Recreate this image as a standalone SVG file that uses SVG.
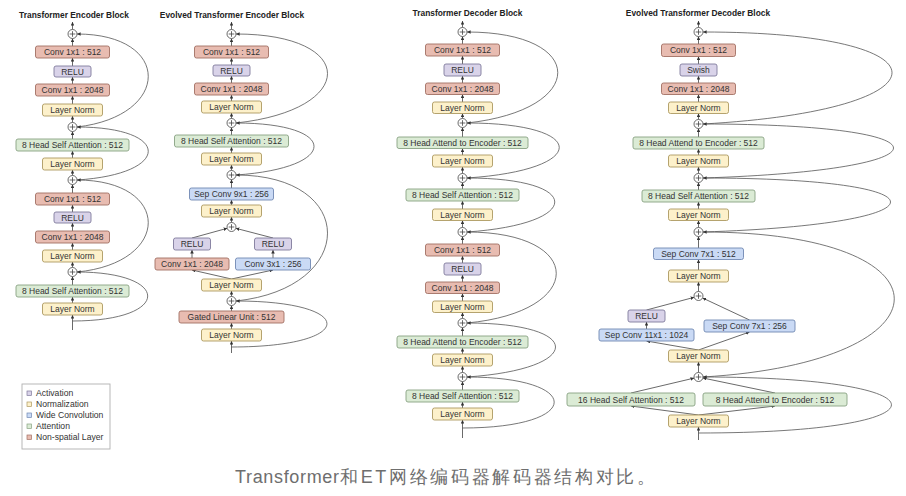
<svg xmlns="http://www.w3.org/2000/svg" width="906" height="496" viewBox="0 0 906 496">
<style>
.bx{stroke-width:0.9}
.ns{fill:#e8bcb1;stroke:#a26f63}
.ac{fill:#d9d3e9;stroke:#807a9c}
.nm{fill:#fdf1cb;stroke:#ad9860}
.wc{fill:#cadaf5;stroke:#6f88b2}
.at{fill:#dbebd5;stroke:#88a182}
text{font-family:"Liberation Sans",Arial,sans-serif}
.t{font-size:8.5px;fill:#333;text-anchor:middle}
.h{font-size:8.4px;font-weight:bold;fill:#222;text-anchor:middle}
.lg{font-size:8.6px;fill:#333}
.ln{stroke:#444;stroke-width:0.8;fill:none;marker-end:url(#ah)}
.cv{stroke:#555;stroke-width:0.8;fill:none;marker-end:url(#ah)}
.pc{fill:#fff;stroke:#444;stroke-width:0.8}
.pl{stroke:#444;stroke-width:0.8}
</style>
<defs>
<marker id="ah" viewBox="0 0 6 6" refX="6" refY="3" markerWidth="3.6" markerHeight="3.6" markerUnits="userSpaceOnUse" orient="auto"><path d="M0,0 L6,3 L0,6 z" fill="#333"/></marker>
<g id="plus"><circle class="pc" cx="0" cy="0" r="4.5"/><path class="pl" d="M-2.8,0 H2.8 M0,-2.8 V2.8"/></g>
</defs>
<rect width="906" height="496" fill="#fff"/>

<!-- titles -->
<text class="h" x="74" y="17.5">Transformer Encoder Block</text>
<text class="h" x="232" y="17.5">Evolved Transformer Encoder Block</text>
<text class="h" x="467.5" y="15.5">Transformer Decoder Block</text>
<text class="h" x="698" y="15.5">Evolved Transformer Decoder Block</text>

<g id="connectors">
<!-- col1 vertical -->
<line class="ln" x1="72.5" y1="29.5" x2="72.5" y2="22"/>
<line class="ln" x1="72.5" y1="46" x2="72.5" y2="38.5"/>
<line class="ln" x1="72.5" y1="66" x2="72.5" y2="58"/>
<line class="ln" x1="72.5" y1="84" x2="72.5" y2="77"/>
<line class="ln" x1="72.5" y1="104" x2="72.5" y2="96"/>
<line class="ln" x1="72.5" y1="122.5" x2="72.5" y2="116"/>
<line class="ln" x1="72.5" y1="139" x2="72.5" y2="131.5"/>
<line class="ln" x1="72.5" y1="158" x2="72.5" y2="151"/>
<line class="ln" x1="72.5" y1="175.5" x2="72.5" y2="170"/>
<line class="ln" x1="72.5" y1="193" x2="72.5" y2="184.5"/>
<line class="ln" x1="72.5" y1="212" x2="72.5" y2="205"/>
<line class="ln" x1="72.5" y1="231" x2="72.5" y2="223"/>
<line class="ln" x1="72.5" y1="250" x2="72.5" y2="243"/>
<line class="ln" x1="72.5" y1="267.5" x2="72.5" y2="262"/>
<line class="ln" x1="72.5" y1="285" x2="72.5" y2="276.5"/>
<line class="ln" x1="72.5" y1="303" x2="72.5" y2="297"/>
<line class="ln" x1="72.5" y1="330" x2="72.5" y2="315"/>
<!-- col1 skips -->
<path class="cv" d="M77,127 C172,116 172,34 77,34"/>
<path class="cv" d="M77,180 C172,174 172,127 77,127"/>
<path class="cv" d="M77,272 C172,263 172,180 77,180"/>
<path class="cv" d="M72.5,321 C172,321 172,272 77,272"/>

<!-- col2 vertical -->
<line class="ln" x1="231.5" y1="29.5" x2="231.5" y2="22"/>
<line class="ln" x1="231.5" y1="46" x2="231.5" y2="38.5"/>
<line class="ln" x1="231.5" y1="65" x2="231.5" y2="58"/>
<line class="ln" x1="231.5" y1="83" x2="231.5" y2="76"/>
<line class="ln" x1="231.5" y1="101" x2="231.5" y2="95"/>
<line class="ln" x1="231.5" y1="118.5" x2="231.5" y2="113"/>
<line class="ln" x1="231.5" y1="135" x2="231.5" y2="127.5"/>
<line class="ln" x1="231.5" y1="153" x2="231.5" y2="147"/>
<line class="ln" x1="231.5" y1="170.5" x2="231.5" y2="165"/>
<line class="ln" x1="231.5" y1="188" x2="231.5" y2="179.5"/>
<line class="ln" x1="231.5" y1="205" x2="231.5" y2="200"/>
<line class="ln" x1="231.5" y1="222.5" x2="231.5" y2="217"/>
<line class="ln" x1="231.5" y1="279" x2="192" y2="270"/>
<line class="ln" x1="231.5" y1="279" x2="273" y2="270"/>
<line class="ln" x1="192" y1="258" x2="192" y2="250"/>
<line class="ln" x1="273" y1="258" x2="273" y2="250"/>
<line class="ln" x1="192" y1="238" x2="227.2" y2="228.3"/>
<line class="ln" x1="273" y1="238" x2="235.8" y2="228.3"/>
<line class="ln" x1="231.5" y1="296.5" x2="231.5" y2="291"/>
<line class="ln" x1="231.5" y1="311" x2="231.5" y2="305.5"/>
<line class="ln" x1="231.5" y1="329" x2="231.5" y2="323"/>
<line class="ln" x1="231.5" y1="353" x2="231.5" y2="341"/>
<!-- col2 skips -->
<path class="cv" d="M236,123 C358,110 358,34 236,34"/>
<path class="cv" d="M236,175 C340,168 340,123 236,123"/>
<path class="cv" d="M236,301 C358,288 358,175 236,175"/>
<path class="cv" d="M231.5,347 C358,347 358,301 236,301"/>

<!-- col3 vertical -->
<line class="ln" x1="462.5" y1="27.5" x2="462.5" y2="21"/>
<line class="ln" x1="462.5" y1="44" x2="462.5" y2="36.5"/>
<line class="ln" x1="462.5" y1="64" x2="462.5" y2="56"/>
<line class="ln" x1="462.5" y1="83" x2="462.5" y2="76"/>
<line class="ln" x1="462.5" y1="102" x2="462.5" y2="94.5"/>
<line class="ln" x1="462.5" y1="118.5" x2="462.5" y2="113.5"/>
<line class="ln" x1="462.5" y1="137" x2="462.5" y2="127.5"/>
<line class="ln" x1="462.5" y1="155" x2="462.5" y2="148.5"/>
<line class="ln" x1="462.5" y1="173.5" x2="462.5" y2="167"/>
<line class="ln" x1="462.5" y1="189" x2="462.5" y2="182.5"/>
<line class="ln" x1="462.5" y1="209" x2="462.5" y2="201"/>
<line class="ln" x1="462.5" y1="227.5" x2="462.5" y2="220.5"/>
<line class="ln" x1="462.5" y1="244" x2="462.5" y2="236.5"/>
<line class="ln" x1="462.5" y1="263" x2="462.5" y2="256"/>
<line class="ln" x1="462.5" y1="282" x2="462.5" y2="275"/>
<line class="ln" x1="462.5" y1="301" x2="462.5" y2="293.5"/>
<line class="ln" x1="462.5" y1="318.5" x2="462.5" y2="312.5"/>
<line class="ln" x1="462.5" y1="336" x2="462.5" y2="327.5"/>
<line class="ln" x1="462.5" y1="354" x2="462.5" y2="348"/>
<line class="ln" x1="462.5" y1="372.5" x2="462.5" y2="366"/>
<line class="ln" x1="462.5" y1="390" x2="462.5" y2="381.5"/>
<line class="ln" x1="462.5" y1="408" x2="462.5" y2="402"/>
<line class="ln" x1="462.5" y1="438" x2="462.5" y2="420"/>
<!-- col3 skips -->
<path class="cv" d="M467,123 C588,110 588,32 467,32"/>
<path class="cv" d="M467,178 C590,170 590,123 467,123"/>
<path class="cv" d="M467,232 C584,224 584,178 467,178"/>
<path class="cv" d="M467,323 C586,312 586,232 467,232"/>
<path class="cv" d="M467,377 C585,369 585,323 467,323"/>
<path class="cv" d="M462.5,428 C584,428 584,377 467,377"/>

<!-- col4 vertical -->
<line class="ln" x1="698.5" y1="27.5" x2="698.5" y2="21"/>
<line class="ln" x1="698.5" y1="44" x2="698.5" y2="36.5"/>
<line class="ln" x1="698.5" y1="64" x2="698.5" y2="56.5"/>
<line class="ln" x1="698.5" y1="83" x2="698.5" y2="76"/>
<line class="ln" x1="698.5" y1="102" x2="698.5" y2="94.5"/>
<line class="ln" x1="698.5" y1="119.5" x2="698.5" y2="113.5"/>
<line class="ln" x1="698.5" y1="137" x2="698.5" y2="128.5"/>
<line class="ln" x1="698.5" y1="155" x2="698.5" y2="149"/>
<line class="ln" x1="698.5" y1="173.5" x2="698.5" y2="167"/>
<line class="ln" x1="698.5" y1="190" x2="698.5" y2="182.5"/>
<line class="ln" x1="698.5" y1="209" x2="698.5" y2="202"/>
<line class="ln" x1="698.5" y1="227.5" x2="698.5" y2="220.5"/>
<line class="ln" x1="698.5" y1="248" x2="698.5" y2="236.5"/>
<line class="ln" x1="698.5" y1="270" x2="698.5" y2="259.5"/>
<line class="ln" x1="698.5" y1="291.5" x2="698.5" y2="282"/>
<line class="ln" x1="698.5" y1="350" x2="646.5" y2="341"/>
<line class="ln" x1="698.5" y1="350" x2="749.5" y2="332"/>
<line class="ln" x1="646.5" y1="329" x2="646.5" y2="322"/>
<line class="ln" x1="646.5" y1="310" x2="694.2" y2="297.3"/>
<line class="ln" x1="749.5" y1="320" x2="702.6" y2="298"/>
<line class="ln" x1="698.5" y1="372.5" x2="698.5" y2="362"/>
<line class="ln" x1="698.5" y1="415" x2="631" y2="406"/>
<line class="ln" x1="698.5" y1="415" x2="775" y2="406"/>
<line class="ln" x1="631" y1="393" x2="694.1" y2="378.1"/>
<line class="ln" x1="775" y1="393" x2="702.9" y2="378"/>
<line class="ln" x1="698.5" y1="440" x2="698.5" y2="427"/>
<!-- col4 skips -->
<path class="cv" d="M703,124 C955,110 955,32 703,32"/>
<path class="cv" d="M703,178 C957,170 957,124 703,124"/>
<path class="cv" d="M703,232 C953,224 953,178 703,178"/>
<path class="cv" d="M703,377 C958,362 958,232 703,232"/>
<path class="cv" d="M698.5,433 C955,433 955,377 703,377"/>
</g>

<!-- column 1 nodes -->
<g id="c1_add4"><use href="#plus" x="72.5" y="34"/></g>
<g id="c1_conv512b"><rect class="bx ns" x="35.5" y="46" width="74" height="12" rx="2"/><text class="t" x="72.5" y="55">Conv 1x1 : 512</text></g>
<g id="c1_relub"><rect class="bx ac" x="54" y="66" width="37" height="11" rx="2"/><text class="t" x="72.5" y="74.5">RELU</text></g>
<g id="c1_conv2048b"><rect class="bx ns" x="35.5" y="84" width="74" height="12" rx="2"/><text class="t" x="72.5" y="93">Conv 1x1 : 2048</text></g>
<g id="c1_lnd"><rect class="bx nm" x="42.5" y="104" width="60" height="12" rx="2"/><text class="t" x="72.5" y="113">Layer Norm</text></g>
<g id="c1_add3"><use href="#plus" x="72.5" y="127"/></g>
<g id="c1_attn2"><rect class="bx at" x="16" y="139" width="113" height="12" rx="2"/><text class="t" x="72.5" y="148">8 Head Self Attention : 512</text></g>
<g id="c1_lnc"><rect class="bx nm" x="42.5" y="158" width="60" height="12" rx="2"/><text class="t" x="72.5" y="167">Layer Norm</text></g>
<g id="c1_add2"><use href="#plus" x="72.5" y="180"/></g>
<g id="c1_conv512a"><rect class="bx ns" x="35.5" y="193" width="74" height="12" rx="2"/><text class="t" x="72.5" y="202">Conv 1x1 : 512</text></g>
<g id="c1_relua"><rect class="bx ac" x="54" y="212" width="37" height="11" rx="2"/><text class="t" x="72.5" y="220.5">RELU</text></g>
<g id="c1_conv2048a"><rect class="bx ns" x="35.5" y="231" width="74" height="12" rx="2"/><text class="t" x="72.5" y="240">Conv 1x1 : 2048</text></g>
<g id="c1_lnb"><rect class="bx nm" x="42.5" y="250" width="60" height="12" rx="2"/><text class="t" x="72.5" y="259">Layer Norm</text></g>
<g id="c1_add1"><use href="#plus" x="72.5" y="272"/></g>
<g id="c1_attn1"><rect class="bx at" x="16" y="285" width="113" height="12" rx="2"/><text class="t" x="72.5" y="294">8 Head Self Attention : 512</text></g>
<g id="c1_lna"><rect class="bx nm" x="42.5" y="303" width="60" height="12" rx="2"/><text class="t" x="72.5" y="312">Layer Norm</text></g>

<!-- column 2 nodes -->
<g id="c2_add5"><use href="#plus" x="231.5" y="34"/></g>
<g id="c2_conv512"><rect class="bx ns" x="194.5" y="46" width="74" height="12" rx="2"/><text class="t" x="231.5" y="55">Conv 1x1 : 512</text></g>
<g id="c2_relu"><rect class="bx ac" x="213" y="65" width="37" height="11" rx="2"/><text class="t" x="231.5" y="73.5">RELU</text></g>
<g id="c2_conv2048"><rect class="bx ns" x="194.5" y="83" width="74" height="12" rx="2"/><text class="t" x="231.5" y="92">Conv 1x1 : 2048</text></g>
<g id="c2_lne"><rect class="bx nm" x="201.5" y="101" width="60" height="12" rx="2"/><text class="t" x="231.5" y="110">Layer Norm</text></g>
<g id="c2_add4"><use href="#plus" x="231.5" y="123"/></g>
<g id="c2_attn"><rect class="bx at" x="174.5" y="135" width="114" height="12" rx="2"/><text class="t" x="231.5" y="144">8 Head Self Attention : 512</text></g>
<g id="c2_lnd"><rect class="bx nm" x="201.5" y="153" width="60" height="12" rx="2"/><text class="t" x="231.5" y="162">Layer Norm</text></g>
<g id="c2_add3"><use href="#plus" x="231.5" y="175"/></g>
<g id="c2_sepconv9"><rect class="bx wc" x="189.5" y="188" width="84" height="12" rx="2"/><text class="t" x="231.5" y="197">Sep Conv 9x1 : 256</text></g>
<g id="c2_lnc"><rect class="bx nm" x="201.5" y="205" width="60" height="12" rx="2"/><text class="t" x="231.5" y="214">Layer Norm</text></g>
<g id="c2_add2"><use href="#plus" x="231.5" y="227"/></g>
<g id="c2_reluL"><rect class="bx ac" x="173.5" y="238" width="37" height="12" rx="2"/><text class="t" x="192" y="247">RELU</text></g>
<g id="c2_reluR"><rect class="bx ac" x="254.5" y="238" width="37" height="12" rx="2"/><text class="t" x="273" y="247">RELU</text></g>
<g id="c2_conv1x1"><rect class="bx ns" x="155" y="258" width="74" height="12" rx="2"/><text class="t" x="192" y="267">Conv 1x1 : 2048</text></g>
<g id="c2_conv3x1"><rect class="bx wc" x="235.5" y="258" width="75" height="12" rx="2"/><text class="t" x="273" y="267">Conv 3x1 : 256</text></g>
<g id="c2_lnb"><rect class="bx nm" x="201.5" y="279" width="60" height="12" rx="2"/><text class="t" x="231.5" y="288">Layer Norm</text></g>
<g id="c2_add1"><use href="#plus" x="231.5" y="301"/></g>
<g id="c2_glu"><rect class="bx ns" x="179" y="311" width="105" height="12" rx="2"/><text class="t" x="231.5" y="320">Gated Linear Unit : 512</text></g>
<g id="c2_lna"><rect class="bx nm" x="201.5" y="329" width="60" height="12" rx="2"/><text class="t" x="231.5" y="338">Layer Norm</text></g>

<!-- column 3 nodes -->
<g id="c3_add6"><use href="#plus" x="462.5" y="32"/></g>
<g id="c3_conv512b"><rect class="bx ns" x="425.5" y="44" width="74" height="12" rx="2"/><text class="t" x="462.5" y="53">Conv 1x1 : 512</text></g>
<g id="c3_relub"><rect class="bx ac" x="444" y="64" width="37" height="12" rx="2"/><text class="t" x="462.5" y="73">RELU</text></g>
<g id="c3_conv2048b"><rect class="bx ns" x="425.5" y="83" width="74" height="11.5" rx="2"/><text class="t" x="462.5" y="92">Conv 1x1 : 2048</text></g>
<g id="c3_lnf"><rect class="bx nm" x="432.5" y="102" width="60" height="11.5" rx="2"/><text class="t" x="462.5" y="111">Layer Norm</text></g>
<g id="c3_add5"><use href="#plus" x="462.5" y="123"/></g>
<g id="c3_enc2"><rect class="bx at" x="397" y="137" width="131" height="11.5" rx="2"/><text class="t" x="462.5" y="146">8 Head Attend to Encoder : 512</text></g>
<g id="c3_lne"><rect class="bx nm" x="432.5" y="155" width="60" height="12" rx="2"/><text class="t" x="462.5" y="164">Layer Norm</text></g>
<g id="c3_add4"><use href="#plus" x="462.5" y="178"/></g>
<g id="c3_sa2"><rect class="bx at" x="406" y="189" width="113" height="12" rx="2"/><text class="t" x="462.5" y="198">8 Head Self Attention : 512</text></g>
<g id="c3_lnd"><rect class="bx nm" x="432.5" y="209" width="60" height="11.5" rx="2"/><text class="t" x="462.5" y="218">Layer Norm</text></g>
<g id="c3_add3"><use href="#plus" x="462.5" y="232"/></g>
<g id="c3_conv512a"><rect class="bx ns" x="425.5" y="244" width="74" height="12" rx="2"/><text class="t" x="462.5" y="253">Conv 1x1 : 512</text></g>
<g id="c3_relua"><rect class="bx ac" x="444" y="263" width="37" height="12" rx="2"/><text class="t" x="462.5" y="272">RELU</text></g>
<g id="c3_conv2048a"><rect class="bx ns" x="425.5" y="282" width="74" height="11.5" rx="2"/><text class="t" x="462.5" y="291">Conv 1x1 : 2048</text></g>
<g id="c3_lnc"><rect class="bx nm" x="432.5" y="301" width="60" height="11.5" rx="2"/><text class="t" x="462.5" y="310">Layer Norm</text></g>
<g id="c3_add2"><use href="#plus" x="462.5" y="323"/></g>
<g id="c3_enc1"><rect class="bx at" x="397" y="336" width="131" height="12" rx="2"/><text class="t" x="462.5" y="345">8 Head Attend to Encoder : 512</text></g>
<g id="c3_lnb"><rect class="bx nm" x="432.5" y="354" width="60" height="12" rx="2"/><text class="t" x="462.5" y="363">Layer Norm</text></g>
<g id="c3_add1"><use href="#plus" x="462.5" y="377"/></g>
<g id="c3_sa1"><rect class="bx at" x="406" y="390" width="113" height="12" rx="2"/><text class="t" x="462.5" y="399">8 Head Self Attention : 512</text></g>
<g id="c3_lna"><rect class="bx nm" x="432.5" y="408" width="60" height="12" rx="2"/><text class="t" x="462.5" y="417">Layer Norm</text></g>

<!-- column 4 nodes -->
<g id="c4_add6"><use href="#plus" x="698.5" y="32"/></g>
<g id="c4_conv512"><rect class="bx ns" x="661.5" y="44" width="74" height="12.5" rx="2"/><text class="t" x="698.5" y="53.2">Conv 1x1 : 512</text></g>
<g id="c4_swish"><rect class="bx ac" x="680" y="64" width="37" height="12" rx="2"/><text class="t" x="698.5" y="73">Swish</text></g>
<g id="c4_conv2048"><rect class="bx ns" x="661.5" y="83" width="74" height="11.5" rx="2"/><text class="t" x="698.5" y="92">Conv 1x1 : 2048</text></g>
<g id="c4_lnf"><rect class="bx nm" x="668.5" y="102" width="60" height="11.5" rx="2"/><text class="t" x="698.5" y="111">Layer Norm</text></g>
<g id="c4_add5"><use href="#plus" x="698.5" y="124"/></g>
<g id="c4_enc"><rect class="bx at" x="633" y="137" width="131" height="12" rx="2"/><text class="t" x="698.5" y="146">8 Head Attend to Encoder : 512</text></g>
<g id="c4_lne"><rect class="bx nm" x="668.5" y="155" width="60" height="12" rx="2"/><text class="t" x="698.5" y="164">Layer Norm</text></g>
<g id="c4_add4"><use href="#plus" x="698.5" y="178"/></g>
<g id="c4_sa"><rect class="bx at" x="642" y="190" width="113" height="12" rx="2"/><text class="t" x="698.5" y="199">8 Head Self Attention : 512</text></g>
<g id="c4_lnd"><rect class="bx nm" x="668.5" y="209" width="60" height="11.5" rx="2"/><text class="t" x="698.5" y="218">Layer Norm</text></g>
<g id="c4_add3"><use href="#plus" x="698.5" y="232"/></g>
<g id="c4_sepconv512"><rect class="bx wc" x="653.5" y="248" width="90" height="11.5" rx="2"/><text class="t" x="698.5" y="257">Sep Conv 7x1 : 512</text></g>
<g id="c4_lnc"><rect class="bx nm" x="668.5" y="270" width="60" height="12" rx="2"/><text class="t" x="698.5" y="279">Layer Norm</text></g>
<g id="c4_add2"><use href="#plus" x="698.5" y="296"/></g>
<g id="c4_relu"><rect class="bx ac" x="628" y="310" width="37" height="12" rx="2"/><text class="t" x="646.5" y="319">RELU</text></g>
<g id="c4_sepconv11"><rect class="bx wc" x="599" y="329" width="95" height="12" rx="2"/><text class="t" x="646.5" y="338">Sep Conv 11x1 : 1024</text></g>
<g id="c4_sepconv7"><rect class="bx wc" x="704" y="320" width="91" height="12" rx="2"/><text class="t" x="749.5" y="329">Sep Conv 7x1 : 256</text></g>
<g id="c4_lnb"><rect class="bx nm" x="668.5" y="350" width="60" height="12" rx="2"/><text class="t" x="698.5" y="359">Layer Norm</text></g>
<g id="c4_add1"><use href="#plus" x="698.5" y="377"/></g>
<g id="c4_sa16"><rect class="bx at" x="567" y="393" width="128" height="13" rx="2"/><text class="t" x="631" y="402.5">16 Head Self Attention : 512</text></g>
<g id="c4_enc8"><rect class="bx at" x="703" y="393" width="144" height="13" rx="2"/><text class="t" x="775" y="402.5">8 Head Attend to Encoder : 512</text></g>
<g id="c4_lna"><rect class="bx nm" x="668.5" y="415" width="60" height="12" rx="2"/><text class="t" x="698.5" y="424">Layer Norm</text></g>

<!-- legend -->
<g id="legend">
<rect x="22" y="384" width="88" height="65" fill="#fff" stroke="#b0b0b0" stroke-width="0.9"/>
<rect class="ac" x="27" y="391" width="4.5" height="4.5" stroke-width="0.7"/><text class="lg" x="36" y="396">Activation</text>
<rect class="nm" x="27" y="402" width="4.5" height="4.5" stroke-width="0.7"/><text class="lg" x="36" y="407">Normalization</text>
<rect class="wc" x="27" y="413" width="4.5" height="4.5" stroke-width="0.7"/><text class="lg" x="36" y="418">Wide Convolution</text>
<rect class="at" x="27" y="424" width="4.5" height="4.5" stroke-width="0.7"/><text class="lg" x="36" y="429">Attention</text>
<rect class="ns" x="27" y="435" width="4.5" height="4.5" stroke-width="0.7"/><text class="lg" x="36" y="440">Non-spatial Layer</text>
</g>

<!-- caption -->
<text x="235" y="483" font-family="'Noto Sans CJK SC', sans-serif" font-size="18" fill="#6e6e6e" textLength="104" lengthAdjust="spacing">Transformer</text>
<text x="340" y="483" font-family="'Noto Sans CJK SC', sans-serif" font-size="18" fill="#6e6e6e" textLength="315" lengthAdjust="spacing">和ET网络编码器解码器结构对比。</text>
</svg>
